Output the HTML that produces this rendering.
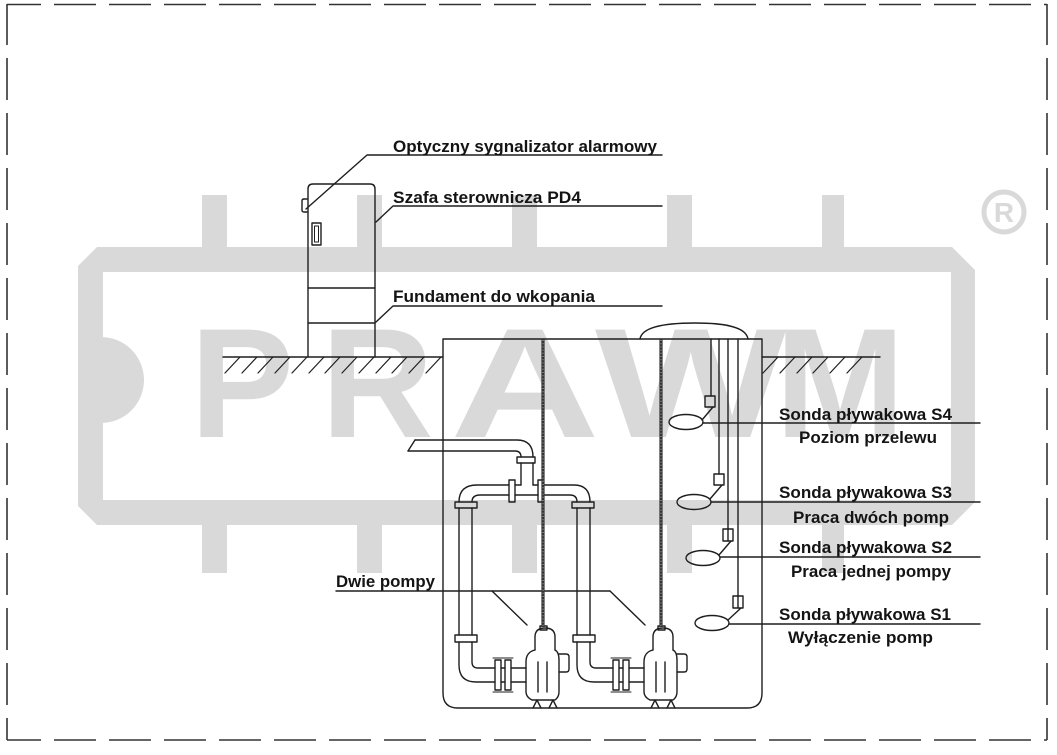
<!DOCTYPE html>
<html><head><meta charset="utf-8"><style>
html,body{margin:0;padding:0;background:#fff;}
svg{display:block;}
.t{font-family:"Liberation Sans",Arial,sans-serif;font-weight:bold;font-size:17px;fill:#141414;}
</style></head><body>
<svg width="1057" height="755" viewBox="0 0 1057 755" xmlns="http://www.w3.org/2000/svg">
<rect width="1057" height="755" fill="#fff"/>
<!-- watermark -->
<g fill="#d9d9d9" font-family="Liberation Sans,Arial,sans-serif" font-weight="bold">
<path fill-rule="evenodd" d="M97,247 L952,247 L975,270 L975,502 L952,525 L97,525 L78,506 L78,266 Z M103,272 L951,272 L951,500 L103,500 Z"/>
<path d="M101,337 A43,43 0 0 1 101,423 Z"/>
<rect x="202" y="195" width="25" height="53"/><rect x="357" y="195" width="25" height="53"/><rect x="512" y="195" width="25" height="53"/><rect x="667" y="195" width="25" height="53"/><rect x="822" y="195" width="22" height="53"/>
<rect x="202" y="524" width="25" height="49"/><rect x="357" y="524" width="25" height="49"/><rect x="512" y="524" width="25" height="49"/><rect x="667" y="524" width="25" height="49"/><rect x="822" y="524" width="22" height="49"/>
<text x="190" y="437" font-size="156">P</text>
<text x="321" y="437" font-size="156">R</text>
<text transform="translate(450,437) scale(1.33,1)" x="0" y="0" font-size="156">A</text>
<text transform="translate(595,437) scale(1.3,1)" x="0" y="0" font-size="156">W</text>
<text x="775" y="437" font-size="156">M</text>
<text x="1004" y="222" text-anchor="middle" font-size="28">R</text>
</g>
<circle cx="1004" cy="212" r="20" fill="none" stroke="#d9d9d9" stroke-width="5"/>

<!-- dashed border -->
<g stroke="#333" stroke-width="1.6" fill="none" stroke-dasharray="42 13">
<line x1="7" y1="4.5" x2="1047" y2="4.5" stroke-dashoffset="8"/>
<line x1="7" y1="740" x2="1047" y2="740" stroke-dashoffset="8"/>
<line x1="7" y1="4" x2="7" y2="740" stroke-dashoffset="1"/>
<line x1="1047" y1="4" x2="1047" y2="740" stroke-dashoffset="1"/>
</g>

<g stroke="#1e1e1e" stroke-width="1.4" fill="none" stroke-linecap="round" stroke-linejoin="round">
<!-- cabinet -->
<path d="M308,357 L308,189 Q308,184 313,184 L370,184 Q375,184 375,189 L375,357"/>
<line x1="308" y1="288" x2="375" y2="288"/>
<line x1="308" y1="323" x2="375" y2="323"/>
<rect x="312" y="223" width="9" height="22"/>
<rect x="314.5" y="226" width="4" height="16" stroke-width="1"/>
<path d="M307,199 L304,199 Q302,199 302,201 L302,210 Q302,212 304,212 L307,212"/>
<!-- top leaders -->
<path d="M306,209 L367,155 L662,155"/>
<path d="M376,222 L393,206 L662,206"/>
<path d="M376,322 L393,306 L662,306"/>
<!-- ground left -->
<line x1="223" y1="357" x2="443" y2="357"/>
<g stroke-width="1.2">
<line x1="240" y1="357" x2="225" y2="373"/><line x1="257" y1="357" x2="242" y2="373"/><line x1="273" y1="357" x2="258" y2="373"/><line x1="290" y1="357" x2="275" y2="373"/><line x1="307" y1="357" x2="292" y2="373"/><line x1="324" y1="357" x2="309" y2="373"/><line x1="340" y1="357" x2="325" y2="373"/><line x1="357" y1="357" x2="342" y2="373"/><line x1="374" y1="357" x2="359" y2="373"/><line x1="391" y1="357" x2="376" y2="373"/><line x1="407" y1="357" x2="392" y2="373"/><line x1="424" y1="357" x2="409" y2="373"/><line x1="441" y1="357" x2="426" y2="373"/>
</g>
<!-- ground right -->
<line x1="762" y1="357" x2="880" y2="357"/>
<g stroke-width="1.2">
<line x1="778" y1="357" x2="763" y2="373"/><line x1="795" y1="357" x2="780" y2="373"/><line x1="812" y1="357" x2="797" y2="373"/><line x1="828" y1="357" x2="813" y2="373"/><line x1="845" y1="357" x2="830" y2="373"/><line x1="862" y1="357" x2="847" y2="373"/>
</g>
<!-- tank -->
<path d="M443,339 L443,693 Q443,708 458,708 L747,708 Q762,708 762,693 L762,339 Z"/>
<path d="M640,339 C642,326 668,323 695,323 C722,323 746,326 748,339"/>
<!-- outlet pipe -->
<path d="M415,440 L517,440 Q533,440 533,457"/>
<path d="M408,451 L515,451 Q521,451 521,457"/>
<line x1="415" y1="440" x2="408" y2="451"/>
<rect x="517" y="457" width="18" height="6"/>
<line x1="521" y1="463" x2="521" y2="485"/>
<line x1="533" y1="463" x2="533" y2="485"/>
<!-- tee -->
<path d="M459,502 Q459,485 477,485 L509,485"/>
<path d="M472,502 Q472,495 480,495 L509,495"/>
<rect x="509" y="480" width="6" height="22"/>
<line x1="515" y1="485" x2="521" y2="485"/>
<line x1="515" y1="495" x2="538" y2="495"/>
<line x1="533" y1="485" x2="538" y2="485"/>
<rect x="538" y="480" width="5" height="22"/>
<path d="M543,485 L574,485 Q590,485 590,502"/>
<path d="M543,495 L570,495 Q577,495 577,502"/>
<rect x="455" y="502" width="22" height="6"/>
<rect x="572" y="502" width="22" height="6"/>
<!-- risers -->
<line x1="459" y1="508" x2="459" y2="635"/><line x1="472" y1="508" x2="472" y2="635"/>
<line x1="577" y1="508" x2="577" y2="635"/><line x1="590" y1="508" x2="590" y2="635"/>
<!-- pump assemblies -->
<g id="pa">
<rect x="455" y="635" width="22" height="7"/>
<path d="M459,642 L459,665 Q459,682 476,682 L495,682"/>
<path d="M472,642 L472,662 Q472,668 478,668 L495,668"/>
<rect x="495" y="660" width="6" height="30"/>
<rect x="505" y="660" width="6" height="30"/>
<line x1="493" y1="658" x2="513" y2="658" stroke-width="1"/>
<line x1="493" y1="692" x2="513" y2="692" stroke-width="1"/>
<line x1="501" y1="668" x2="505" y2="668"/><line x1="501" y1="682" x2="505" y2="682"/>
<line x1="511" y1="668" x2="526" y2="668"/><line x1="511" y1="682" x2="526" y2="682"/>
<rect x="540" y="626" width="7" height="4"/>
<path d="M535,650 L535,637 Q535,628 545,628 Q555,628 555,637 L555,650"/>
<path d="M535,650 Q526,652 526,662 L526,692 Q526,697 532,700 L555,700 Q559,697 559,692 L559,660 Q559,652 555,650"/>
<path d="M559,654 L566,654 Q569,654 569,657 L569,669 Q569,672 566,672 L559,672"/>
<line x1="538" y1="662" x2="538" y2="692"/><line x1="547" y1="662" x2="547" y2="692"/>
<path d="M533,708 L537,700 L541,708"/><path d="M549,708 L553,700 L557,708"/>
</g>
<use href="#pa" transform="translate(118,0)"/>
<!-- Dwie pompy leader -->
<path d="M336,591 L610,591"/>
<line x1="492" y1="591" x2="527" y2="625"/>
<line x1="610" y1="591" x2="645" y2="625"/>
<!-- float cables -->
<line x1="711" y1="339" x2="711" y2="396"/>
<line x1="719" y1="339" x2="719" y2="474"/>
<line x1="728" y1="339" x2="728" y2="529"/>
<line x1="738" y1="339" x2="738" y2="596"/>
<rect x="705" y="396" width="10" height="11"/>
<rect x="714" y="474" width="10" height="11"/>
<rect x="723" y="529" width="10" height="12"/><line x1="728" y1="529" x2="728" y2="541"/>
<rect x="733" y="596" width="10" height="12"/><line x1="738" y1="596" x2="738" y2="608"/>
<ellipse cx="686" cy="422" rx="17" ry="7.5"/>
<ellipse cx="694" cy="502" rx="17" ry="7.5"/>
<ellipse cx="703" cy="558" rx="17" ry="7.5"/>
<ellipse cx="712" cy="623" rx="17" ry="7.5"/>
<line x1="713" y1="407" x2="702" y2="420"/>
<line x1="722" y1="485" x2="710" y2="499"/>
<line x1="731" y1="541" x2="719" y2="555"/>
<line x1="741" y1="608" x2="728" y2="620"/>
<line x1="703" y1="423" x2="980" y2="423"/>
<line x1="711" y1="502" x2="980" y2="502"/>
<line x1="720" y1="557" x2="980" y2="557"/>
<line x1="729" y1="624" x2="980" y2="624"/>
</g>
<!-- chains -->
<g stroke-linecap="butt">
<line x1="543" y1="339" x2="543" y2="627" stroke="#333" stroke-width="3.2"/>
<line x1="661" y1="339" x2="661" y2="627" stroke="#333" stroke-width="3.2"/>
<line x1="543" y1="340" x2="543" y2="626" stroke="#bbb" stroke-width="1" stroke-dasharray="1 2.2"/>
<line x1="661" y1="340" x2="661" y2="626" stroke="#bbb" stroke-width="1" stroke-dasharray="1 2.2"/>
</g>
<!-- labels -->
<text class="t" x="393" y="152" textLength="264" lengthAdjust="spacingAndGlyphs">Optyczny sygnalizator alarmowy</text>
<text class="t" x="393" y="203" textLength="188" lengthAdjust="spacingAndGlyphs">Szafa sterownicza PD4</text>
<text class="t" x="393" y="302" textLength="202" lengthAdjust="spacingAndGlyphs">Fundament do wkopania</text>
<text class="t" x="336" y="587" textLength="99" lengthAdjust="spacingAndGlyphs">Dwie pompy</text>
<text class="t" x="779" y="420" textLength="173" lengthAdjust="spacingAndGlyphs">Sonda pływakowa S4</text>
<text class="t" x="799" y="443" textLength="138" lengthAdjust="spacingAndGlyphs">Poziom przelewu</text>
<text class="t" x="779" y="498" textLength="173" lengthAdjust="spacingAndGlyphs">Sonda pływakowa S3</text>
<text class="t" x="793" y="523" textLength="156" lengthAdjust="spacingAndGlyphs">Praca dwóch pomp</text>
<text class="t" x="779" y="553" textLength="173" lengthAdjust="spacingAndGlyphs">Sonda pływakowa S2</text>
<text class="t" x="791" y="577" textLength="160" lengthAdjust="spacingAndGlyphs">Praca jednej pompy</text>
<text class="t" x="779" y="620" textLength="172" lengthAdjust="spacingAndGlyphs">Sonda pływakowa S1</text>
<text class="t" x="788" y="643" textLength="145" lengthAdjust="spacingAndGlyphs">Wyłączenie pomp</text>
</svg>
</body></html>
